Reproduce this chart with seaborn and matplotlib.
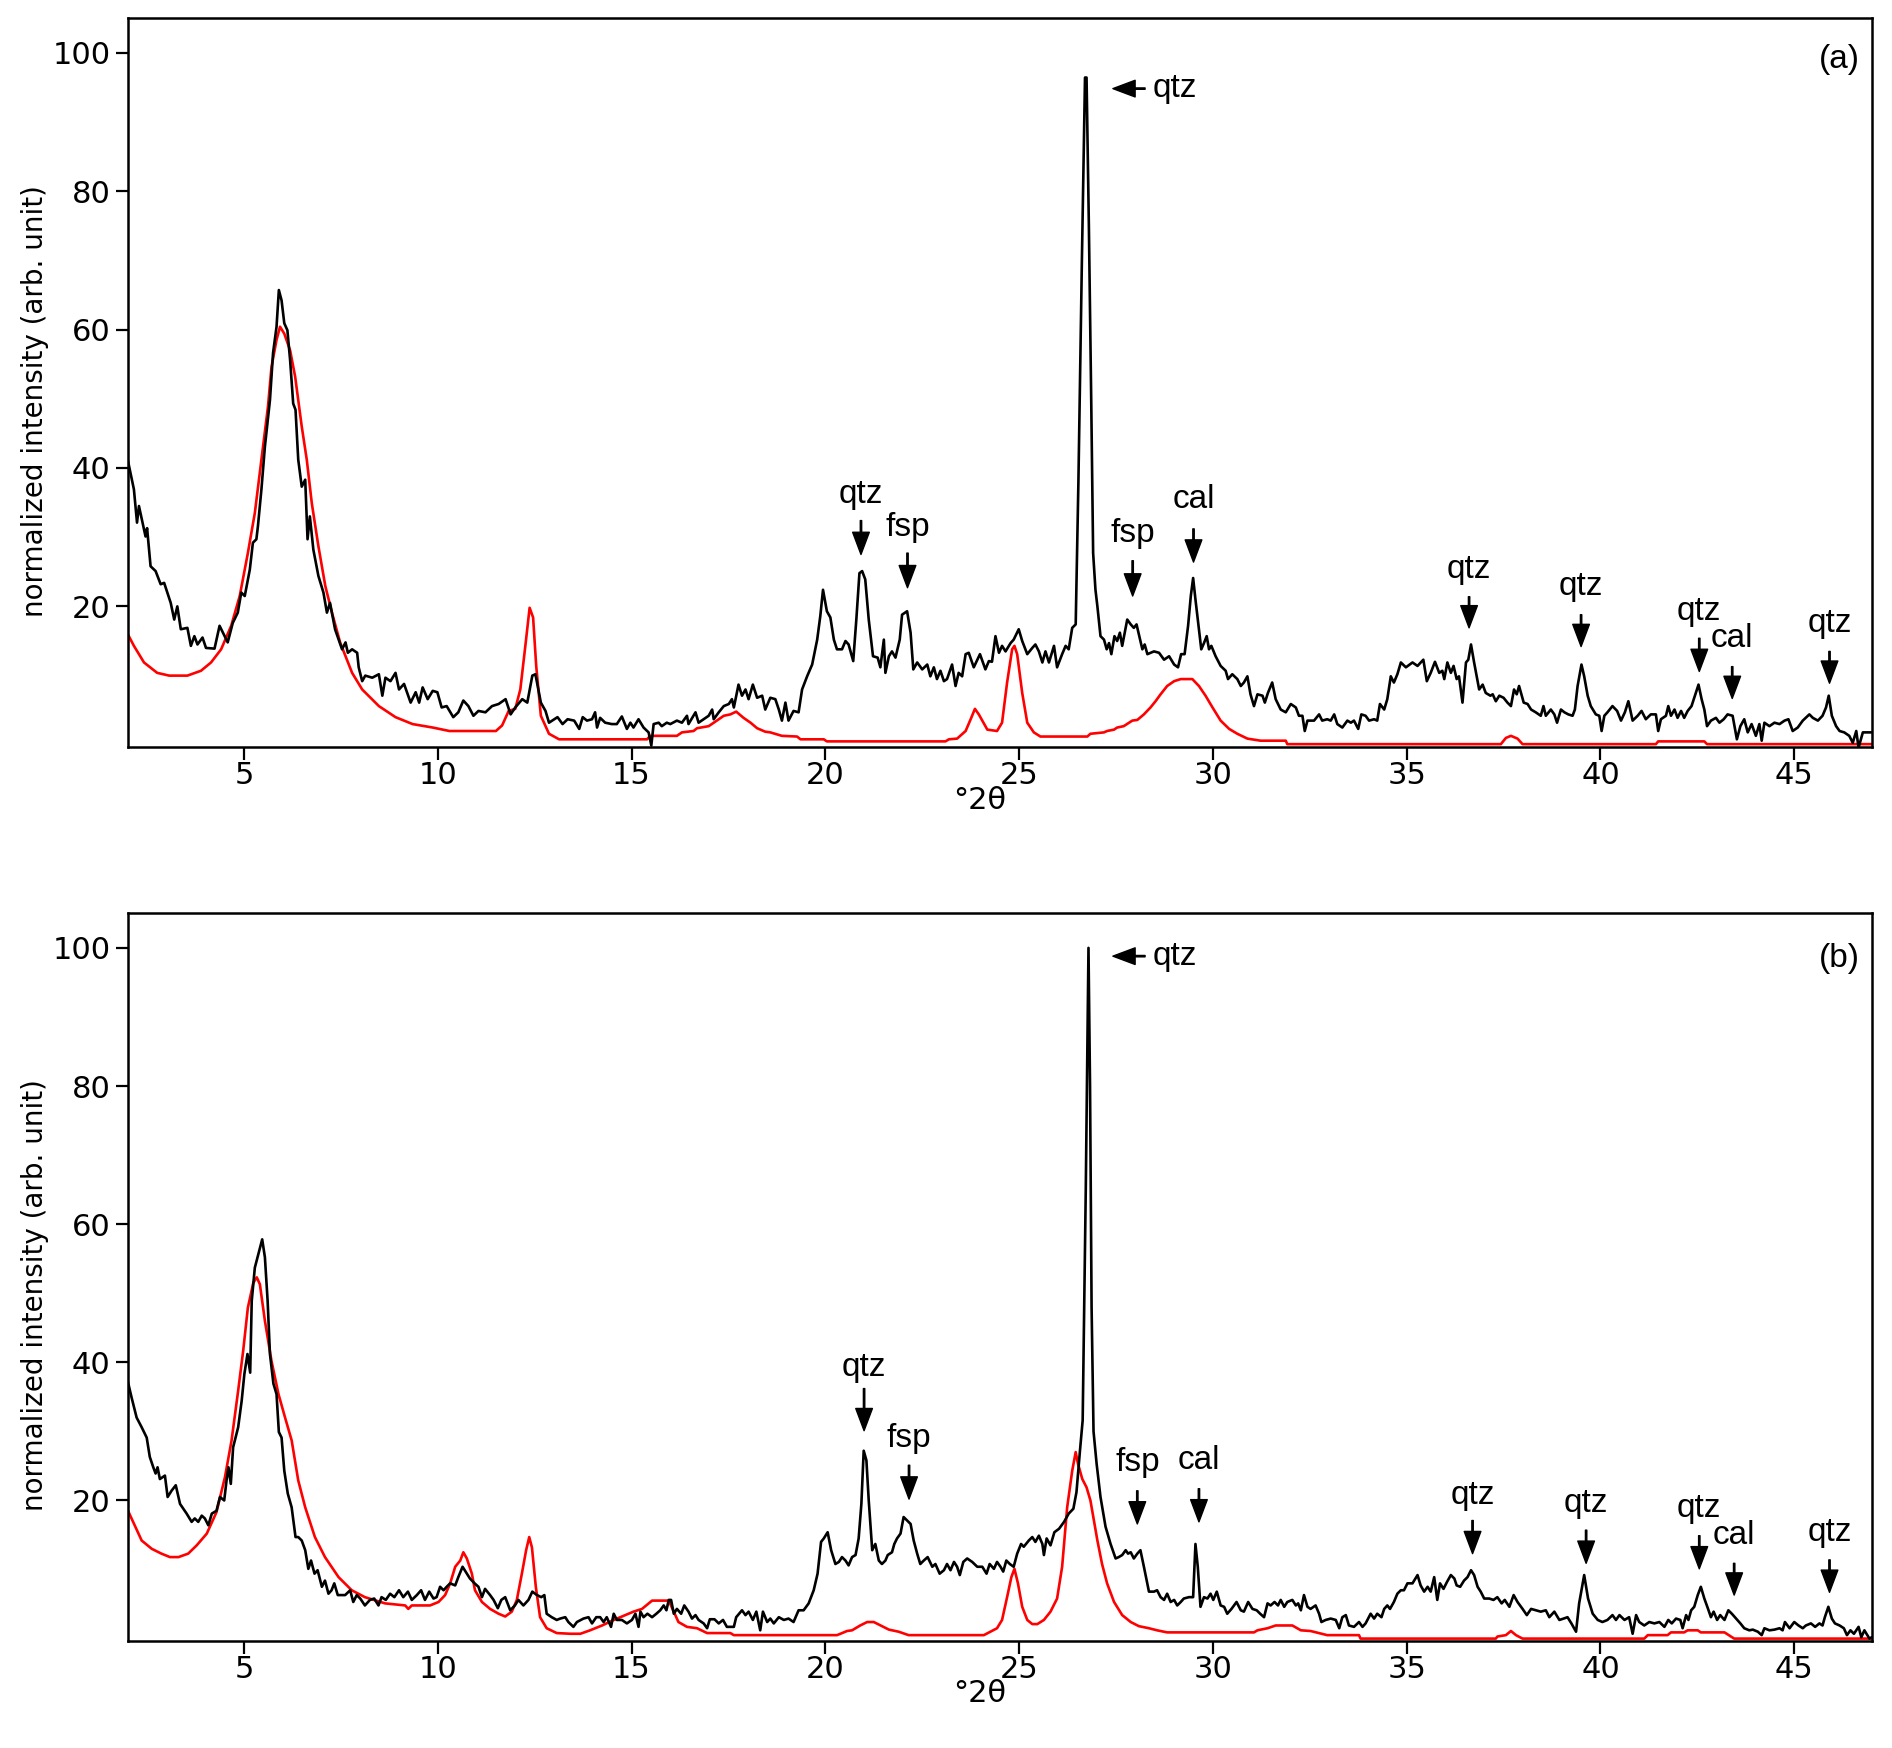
import seaborn as sns
import matplotlib.pyplot as plt
import numpy as np

# ---- panel (a) ----
black_a_x = [2.0, 2.16, 2.24, 2.29, 2.46, 2.5, 2.59, 2.72, 2.85, 2.94, 3.11, 3.2, 3.28, 3.37, 3.54, 3.63, 3.72, 3.8, 3.93, 4.02,
             4.24, 4.37, 4.5, 4.58, 4.71, 4.84, 4.93, 5.02, 5.15, 5.23, 5.32, 5.36, 5.45, 5.54, 5.67, 5.75, 5.84, 5.9, 5.97, 6.04,
             6.12, 6.19, 6.27, 6.33, 6.4, 6.49, 6.58, 6.64, 6.7, 6.79, 6.92, 7.05, 7.14, 7.22, 7.35, 7.53, 7.62, 7.68, 7.79, 7.92,
             7.96, 8.05, 8.13, 8.31, 8.48, 8.57, 8.65, 8.78, 8.91, 9.0, 9.13, 9.3, 9.43, 9.52, 9.61, 9.74, 9.87, 9.99, 10.1, 10.23,
             10.4, 10.53, 10.66, 10.79, 10.92, 11.05, 11.23, 11.4, 11.57, 11.75, 11.88, 12.0, 12.18, 12.31, 12.44, 12.52, 12.66, 12.78, 12.87, 13.09,
             13.22, 13.35, 13.52, 13.65, 13.74, 13.85, 13.98, 14.06, 14.11, 14.19, 14.32, 14.49, 14.62, 14.75, 14.88, 14.97, 15.05, 15.18, 15.31, 15.44,
             15.51, 15.57, 15.7, 15.78, 15.91, 16.0, 16.17, 16.3, 16.43, 16.47, 16.65, 16.73, 16.86, 16.99, 17.08, 17.12, 17.25, 17.38, 17.51, 17.59,
             17.64, 17.76, 17.85, 17.94, 18.02, 18.13, 18.24, 18.37, 18.45, 18.58, 18.71, 18.8, 18.88, 18.97, 19.05, 19.18, 19.31, 19.4, 19.53, 19.66,
             19.79, 19.87, 19.94, 20.04, 20.13, 20.22, 20.3, 20.43, 20.52, 20.6, 20.72, 20.8, 20.88, 20.95, 21.03, 21.12, 21.23, 21.35, 21.42, 21.51,
             21.55, 21.64, 21.72, 21.81, 21.92, 21.98, 22.11, 22.2, 22.27, 22.37, 22.5, 22.63, 22.71, 22.8, 22.88, 22.97, 23.06, 23.14, 23.27, 23.36,
             23.44, 23.53, 23.62, 23.7, 23.83, 23.99, 24.13, 24.22, 24.3, 24.39, 24.48, 24.56, 24.65, 24.78, 24.86, 24.99, 25.08, 25.21, 25.34, 25.42,
             25.51, 25.6, 25.68, 25.77, 25.9, 25.98, 26.11, 26.2, 26.28, 26.37, 26.46, 26.53, 26.62, 26.7, 26.74, 26.8, 26.86, 26.91, 26.97, 27.02,
             27.1, 27.19, 27.26, 27.32, 27.38, 27.46, 27.53, 27.6, 27.66, 27.79, 27.88, 27.96, 28.03, 28.12, 28.18, 28.24, 28.31, 28.48, 28.61, 28.74,
             28.87, 29.0, 29.1, 29.18, 29.27, 29.36, 29.43, 29.49, 29.55, 29.64, 29.7, 29.77, 29.84, 29.9, 29.96, 30.07, 30.2, 30.33, 30.39, 30.5,
             30.63, 30.72, 30.8, 30.89, 30.97, 31.06, 31.15, 31.28, 31.34, 31.42, 31.53, 31.62, 31.75, 31.88, 32.01, 32.14, 32.22, 32.31, 32.37, 32.44,
             32.61, 32.74, 32.82, 32.95, 33.04, 33.13, 33.21, 33.34, 33.47, 33.56, 33.64, 33.75, 33.83, 33.94, 34.03, 34.16, 34.24, 34.31, 34.42, 34.5,
             34.59, 34.67, 34.76, 34.85, 34.98, 35.15, 35.28, 35.43, 35.52, 35.62, 35.73, 35.84, 35.92, 35.97, 36.05, 36.14, 36.21, 36.29, 36.35, 36.44,
             36.53, 36.59, 36.66, 36.74, 36.87, 36.96, 37.04, 37.16, 37.22, 37.3, 37.39, 37.5, 37.6, 37.69, 37.77, 37.84, 37.9, 38.02, 38.12, 38.21,
             38.33, 38.46, 38.53, 38.59, 38.72, 38.81, 38.88, 38.98, 39.07, 39.17, 39.28, 39.34, 39.41, 39.51, 39.58, 39.67, 39.75, 39.88, 39.97, 40.03,
             40.1, 40.18, 40.31, 40.43, 40.53, 40.63, 40.72, 40.83, 40.96, 41.06, 41.17, 41.3, 41.43, 41.49, 41.56, 41.69, 41.75, 41.82, 41.91, 41.99,
             42.08, 42.16, 42.25, 42.35, 42.42, 42.53, 42.61, 42.68, 42.75, 42.85, 42.98, 43.07, 43.18, 43.28, 43.41, 43.52, 43.61, 43.71, 43.8, 43.9,
             44.01, 44.1, 44.16, 44.23, 44.36, 44.49, 44.62, 44.75, 44.85, 44.96, 45.09, 45.22, 45.39, 45.48, 45.61, 45.73, 45.82, 45.89, 45.97, 46.08,
             46.17, 46.29, 46.42, 46.51, 46.6, 46.66, 46.77, 47.0]
black_a_y = [41.2, 36.9, 32.1, 34.5, 30.1, 31.3, 25.8, 25.1, 23.2, 23.4, 20.5, 18.1, 20.0, 16.7, 16.9, 14.3, 15.7, 14.5, 15.5, 14.0,
             13.9, 17.2, 15.7, 14.8, 17.6, 19.1, 22.0, 21.5, 25.3, 29.2, 29.7, 31.6, 36.9, 43.1, 49.8, 56.6, 60.4, 65.7, 64.2, 60.9,
             59.9, 55.6, 49.3, 48.4, 41.2, 37.3, 38.3, 29.7, 33.0, 28.2, 24.4, 22.0, 19.1, 20.5, 16.7, 13.8, 14.8, 13.3, 13.8, 13.3,
             11.2, 9.2, 10.0, 9.7, 10.2, 7.1, 9.7, 9.2, 10.4, 8.0, 8.8, 6.1, 7.6, 6.1, 8.3, 6.6, 7.8, 7.6, 5.4, 5.6,
             4.0, 4.7, 6.4, 5.6, 4.2, 4.9, 4.7, 5.6, 5.9, 6.6, 4.4, 5.4, 6.6, 6.1, 10.0, 10.2, 6.1, 4.9, 3.2, 4.0,
             3.0, 3.7, 3.5, 2.3, 4.0, 3.5, 3.7, 4.7, 2.5, 3.9, 3.2, 3.0, 3.0, 4.1, 2.3, 3.2, 2.5, 3.7, 2.5, 1.8,
             -0.1, 3.0, 3.2, 2.7, 3.2, 3.0, 3.5, 3.2, 4.2, 3.0, 4.7, 3.2, 3.7, 4.2, 5.1, 3.7, 4.7, 5.6, 5.9, 6.6,
             5.4, 8.7, 7.1, 8.0, 6.6, 8.7, 6.8, 7.1, 5.1, 6.8, 6.6, 5.1, 3.5, 6.1, 3.5, 4.9, 4.7, 8.0, 9.9, 11.6,
             15.2, 18.6, 22.4, 19.3, 18.4, 15.2, 13.8, 13.8, 15.0, 14.5, 12.1, 18.1, 24.8, 25.1, 23.9, 18.1, 12.8, 12.6, 11.2, 15.2,
             10.4, 12.8, 13.5, 12.6, 15.2, 18.8, 19.3, 16.2, 10.9, 11.9, 10.9, 11.6, 9.9, 11.2, 9.5, 10.7, 9.2, 9.5, 11.6, 8.5,
             10.4, 9.9, 13.1, 13.3, 11.2, 13.1, 10.9, 12.1, 12.0, 15.7, 13.3, 14.3, 13.5, 14.7, 15.2, 16.7, 15.0, 13.1, 14.0, 14.5,
             13.5, 11.9, 13.5, 11.9, 14.3, 11.2, 13.1, 14.3, 13.8, 16.9, 17.4, 38.0, 70.0, 96.4, 96.4, 75.0, 50.0, 27.7, 22.4, 20.0,
             15.7, 15.2, 13.8, 14.7, 13.1, 15.7, 15.0, 16.2, 14.3, 18.1, 17.4, 16.9, 17.4, 15.2, 13.8, 14.5, 13.1, 13.5, 13.3, 12.3,
             12.8, 11.6, 11.2, 13.1, 13.1, 17.2, 21.5, 24.1, 21.0, 16.7, 13.8, 14.7, 15.7, 13.8, 14.3, 12.8, 11.4, 10.7, 9.5, 10.2,
             9.5, 8.5, 9.0, 9.9, 7.3, 5.6, 7.3, 7.1, 6.1, 7.5, 9.0, 6.6, 5.1, 4.7, 5.9, 5.4, 4.2, 4.2, 2.0, 3.5,
             3.5, 4.4, 3.5, 3.7, 3.5, 4.4, 3.0, 2.5, 3.5, 3.2, 3.5, 2.3, 4.4, 4.2, 3.5, 3.7, 3.5, 5.9, 5.1, 6.6,
             9.9, 9.0, 10.2, 11.9, 11.2, 11.9, 11.4, 12.3, 9.2, 10.4, 12.0, 10.4, 10.7, 9.5, 11.9, 10.4, 11.4, 9.5, 9.9, 6.1,
             11.9, 12.3, 14.5, 11.9, 8.0, 8.7, 7.5, 7.1, 7.3, 6.3, 7.1, 6.8, 6.1, 5.6, 8.0, 7.3, 8.5, 6.1, 5.9, 5.1,
             4.7, 4.2, 5.6, 4.2, 5.1, 4.4, 3.2, 5.1, 4.7, 4.4, 4.2, 5.1, 8.5, 11.6, 9.9, 7.1, 5.6, 4.4, 4.2, 2.0,
             4.2, 4.7, 5.6, 4.9, 3.5, 4.7, 6.3, 3.5, 4.2, 4.9, 3.7, 4.4, 4.4, 2.0, 3.7, 4.2, 5.6, 4.2, 5.1, 3.9,
             4.9, 3.9, 4.9, 5.6, 6.8, 8.7, 6.6, 5.1, 2.7, 3.5, 3.9, 3.2, 3.7, 4.4, 4.2, 0.8, 2.7, 3.7, 1.8, 3.0,
             1.3, 3.0, 0.6, 3.2, 2.7, 3.2, 3.0, 3.5, 3.7, 2.0, 2.5, 3.5, 4.4, 3.9, 3.5, 4.2, 5.4, 7.1, 4.2, 2.7,
             2.0, 1.8, 1.3, 0.3, 2.0, -0.4, 1.8, 1.8]

red_a_x = [2.0, 2.16, 2.42, 2.76, 3.07, 3.54, 3.89, 4.15, 4.41, 4.67, 4.89, 5.1, 5.28, 5.45, 5.62, 5.71, 5.84, 5.93, 6.04, 6.19,
           6.32, 6.49, 6.62, 6.75, 6.92, 7.1, 7.27, 7.48, 7.79, 8.05, 8.48, 8.91, 9.35, 9.87, 10.3, 11.5, 11.66, 11.83, 12.0, 12.13,
           12.27, 12.37, 12.46, 12.54, 12.66, 12.87, 13.13, 15.4, 15.48, 16.17, 16.3, 16.6, 16.69, 16.99, 17.2, 17.38, 17.55, 17.7, 17.89, 18.07,
           18.24, 18.45, 18.58, 18.88, 19.27, 19.36, 19.96, 20.04, 23.1, 23.19, 23.4, 23.62, 23.75, 23.86, 23.96, 24.18, 24.43, 24.56, 24.69, 24.82,
           24.88, 24.95, 25.08, 25.21, 25.38, 25.55, 26.76, 26.84, 27.19, 27.27, 27.45, 27.53, 27.7, 27.92, 28.05, 28.22, 28.39, 28.52, 28.65, 28.82,
           29.0, 29.17, 29.47, 29.64, 29.81, 29.99, 30.2, 30.42, 30.63, 30.89, 31.23, 31.88, 31.92, 37.43, 37.56, 37.69, 37.86, 37.99, 41.43, 41.49,
           42.68, 42.75, 47.0]
red_a_y = [16.0, 14.3, 11.9, 10.4, 10.0, 10.0, 10.7, 11.9, 13.8, 17.2, 21.5, 27.7, 33.5, 41.2, 48.9, 54.6, 58.5, 60.4, 59.4, 57.0,
           53.2, 46.0, 41.2, 34.9, 28.7, 22.9, 19.1, 14.8, 10.4, 8.0, 5.6, 4.0, 3.0, 2.5, 2.0, 2.0, 2.8, 4.9, 5.2, 8.0,
           14.8, 19.8, 18.4, 11.4, 4.2, 1.6, 0.8, 0.8, 1.3, 1.3, 1.8, 2.0, 2.4, 2.7, 3.5, 4.2, 4.4, 4.8, 3.9, 3.2,
           2.4, 1.9, 1.8, 1.3, 1.2, 0.8, 0.8, 0.5, 0.5, 0.8, 0.9, 2.0, 3.7, 5.2, 4.4, 2.2, 2.0, 3.2, 9.0, 13.8,
           14.3, 13.1, 7.5, 3.2, 1.8, 1.2, 1.2, 1.6, 1.8, 2.0, 2.2, 2.5, 2.7, 3.5, 3.6, 4.4, 5.4, 6.3, 7.3, 8.5,
           9.2, 9.5, 9.5, 8.5, 7.1, 5.4, 3.5, 2.3, 1.6, 0.9, 0.6, 0.6, 0.1, 0.1, 1.0, 1.3, 0.9, 0.1, 0.1, 0.5,
           0.5, 0.1, 0.1]

# ---- panel (b) ----
black_b_x = [2.0, 2.1, 2.23, 2.36, 2.49, 2.57, 2.66, 2.72, 2.77, 2.83, 2.96, 3.03, 3.13, 3.24, 3.35, 3.52, 3.65, 3.73, 3.82, 3.91,
             3.99, 4.08, 4.17, 4.29, 4.38, 4.49, 4.55, 4.6, 4.66, 4.72, 4.85, 4.94, 5.01, 5.09, 5.16, 5.2, 5.28, 5.39, 5.47, 5.54,
             5.61, 5.67, 5.76, 5.84, 5.9, 5.97, 6.04, 6.13, 6.23, 6.33, 6.4, 6.49, 6.58, 6.66, 6.73, 6.82, 6.9, 7.01, 7.09, 7.18,
             7.26, 7.33, 7.42, 7.61, 7.74, 7.82, 7.91, 8.0, 8.12, 8.25, 8.36, 8.47, 8.55, 8.66, 8.77, 8.88, 9.0, 9.11, 9.23, 9.33,
             9.46, 9.57, 9.67, 9.78, 9.89, 9.97, 10.06, 10.15, 10.23, 10.32, 10.45, 10.53, 10.64, 10.75, 10.83, 10.95, 11.05, 11.14, 11.22, 11.35,
             11.44, 11.55, 11.64, 11.74, 11.87, 11.99, 12.08, 12.21, 12.34, 12.44, 12.56, 12.67, 12.75, 12.81, 12.94, 13.07, 13.16, 13.29, 13.37, 13.5,
             13.59, 13.76, 13.89, 13.98, 14.09, 14.19, 14.28, 14.36, 14.47, 14.54, 14.62, 14.75, 14.88, 15.01, 15.1, 15.18, 15.23, 15.31, 15.41, 15.53,
             15.64, 15.74, 15.83, 15.9, 15.96, 16.02, 16.09, 16.17, 16.28, 16.36, 16.47, 16.56, 16.65, 16.73, 16.86, 16.95, 17.02, 17.14, 17.25, 17.36,
             17.46, 17.64, 17.7, 17.85, 17.94, 18.02, 18.13, 18.22, 18.32, 18.39, 18.5, 18.58, 18.67, 18.8, 18.93, 19.05, 19.18, 19.31, 19.44, 19.57,
             19.7, 19.8, 19.89, 19.96, 20.06, 20.15, 20.26, 20.35, 20.43, 20.52, 20.6, 20.69, 20.78, 20.86, 20.93, 20.99, 21.06, 21.12, 21.21, 21.29,
             21.38, 21.46, 21.55, 21.61, 21.72, 21.78, 21.85, 21.94, 22.02, 22.11, 22.2, 22.28, 22.37, 22.45, 22.54, 22.64, 22.76, 22.84, 22.95, 23.06,
             23.14, 23.23, 23.32, 23.4, 23.47, 23.56, 23.66, 23.79, 23.92, 24.05, 24.16, 24.24, 24.35, 24.43, 24.52, 24.59, 24.67, 24.76, 24.86, 24.95,
             25.05, 25.12, 25.25, 25.34, 25.42, 25.51, 25.6, 25.64, 25.71, 25.81, 25.91, 26.03, 26.16, 26.28, 26.4, 26.48, 26.57, 26.64, 26.72, 26.79,
             26.83, 26.87, 26.92, 27.0, 27.1, 27.23, 27.36, 27.49, 27.57, 27.66, 27.75, 27.81, 27.88, 27.96, 28.05, 28.13, 28.22, 28.35, 28.48, 28.56,
             28.65, 28.74, 28.82, 28.91, 29.0, 29.08, 29.17, 29.25, 29.38, 29.49, 29.55, 29.61, 29.68, 29.77, 29.86, 29.94, 30.01, 30.1, 30.2, 30.29,
             30.37, 30.48, 30.61, 30.72, 30.8, 30.91, 31.02, 31.13, 31.22, 31.32, 31.41, 31.49, 31.59, 31.68, 31.75, 31.84, 31.92, 32.05, 32.14, 32.2,
             32.27, 32.35, 32.44, 32.52, 32.65, 32.74, 32.8, 32.91, 33.04, 33.17, 33.26, 33.34, 33.43, 33.51, 33.64, 33.77, 33.86, 33.94, 34.07, 34.16,
             34.24, 34.35, 34.42, 34.5, 34.57, 34.67, 34.76, 34.85, 34.93, 35.02, 35.15, 35.28, 35.36, 35.45, 35.54, 35.62, 35.71, 35.79, 35.86, 35.95,
             36.04, 36.14, 36.23, 36.29, 36.38, 36.48, 36.57, 36.66, 36.74, 36.83, 36.91, 37.0, 37.13, 37.24, 37.34, 37.45, 37.53, 37.65, 37.76, 37.86,
             37.99, 38.1, 38.21, 38.33, 38.46, 38.59, 38.68, 38.81, 38.94, 39.05, 39.15, 39.25, 39.37, 39.45, 39.58, 39.68, 39.8, 39.93, 40.05, 40.18,
             40.31, 40.4, 40.49, 40.62, 40.74, 40.83, 40.92, 41.0, 41.13, 41.26, 41.39, 41.52, 41.65, 41.75, 41.84, 41.95, 42.06, 42.12, 42.21, 42.27,
             42.34, 42.42, 42.51, 42.59, 42.68, 42.77, 42.85, 42.92, 43.01, 43.09, 43.2, 43.3, 43.39, 43.5, 43.61, 43.71, 43.84, 43.93, 44.06, 44.16,
             44.23, 44.36, 44.49, 44.62, 44.7, 44.76, 44.88, 45.0, 45.11, 45.22, 45.3, 45.43, 45.54, 45.65, 45.73, 45.79, 45.88, 45.97, 46.05, 46.17,
             46.28, 46.36, 46.45, 46.54, 46.66, 46.73, 46.81, 46.94, 47.0]
black_b_y = [37.3, 34.9, 32.0, 30.6, 29.1, 26.3, 24.8, 23.9, 24.8, 23.1, 23.6, 20.5, 21.4, 22.2, 19.5, 18.1, 16.9, 17.4, 16.9, 17.8,
             17.4, 16.4, 18.1, 18.5, 20.5, 20.0, 22.9, 24.8, 22.4, 27.7, 30.6, 34.4, 38.3, 41.2, 38.5, 48.9, 53.7, 56.1, 57.8, 55.2,
             48.9, 41.2, 36.9, 35.4, 29.9, 29.1, 24.3, 21.0, 19.0, 14.7, 14.7, 14.2, 12.8, 10.1, 11.3, 9.4, 9.9, 7.5, 8.4, 6.5,
             7.0, 8.0, 6.3, 6.3, 7.0, 5.3, 6.3, 5.8, 4.8, 5.6, 5.8, 4.8, 6.0, 5.6, 6.5, 6.0, 7.0, 6.0, 6.8, 5.6,
             6.3, 7.0, 5.6, 6.8, 5.8, 6.0, 7.5, 7.0, 7.5, 8.0, 7.7, 8.9, 10.4, 9.4, 8.7, 8.0, 7.5, 6.0, 7.2, 6.3,
             5.6, 4.4, 5.6, 6.0, 4.1, 4.8, 5.6, 4.8, 5.6, 6.8, 6.3, 6.0, 6.3, 3.6, 3.1, 2.7, 2.9, 3.1, 2.4, 1.7,
             2.4, 2.9, 3.1, 2.2, 3.1, 3.1, 2.4, 3.1, 1.7, 3.6, 2.7, 2.7, 2.2, 2.7, 3.6, 1.7, 3.9, 3.1, 3.6, 3.1,
             3.6, 4.1, 4.8, 4.1, 5.6, 5.6, 3.6, 4.3, 3.6, 4.8, 3.9, 2.9, 3.4, 2.7, 2.2, 1.5, 2.8, 2.8, 2.2, 2.7,
             1.7, 1.7, 3.1, 4.1, 3.4, 3.9, 2.7, 3.9, 1.2, 3.9, 2.4, 2.9, 2.2, 3.1, 2.7, 2.9, 2.4, 4.1, 4.1, 5.1,
             7.0, 9.4, 14.0, 14.5, 15.4, 12.8, 10.8, 11.1, 11.8, 11.3, 10.6, 11.8, 12.1, 14.5, 19.5, 27.2, 25.8, 20.0, 12.8, 13.7,
             11.3, 10.8, 11.3, 12.1, 12.5, 13.7, 14.5, 15.2, 17.6, 17.1, 16.6, 14.2, 12.3, 10.8, 11.3, 11.8, 10.4, 10.8, 9.4, 9.9,
             10.8, 9.9, 11.1, 10.4, 9.2, 11.1, 11.6, 11.1, 10.4, 10.4, 9.4, 10.8, 10.1, 11.1, 10.4, 9.7, 11.3, 10.8, 10.4, 12.3,
             13.7, 13.3, 14.2, 14.7, 14.0, 14.9, 13.7, 12.1, 14.5, 13.5, 15.4, 15.9, 16.9, 18.1, 18.8, 21.2, 27.2, 31.6, 65.0, 100.0,
             80.0, 48.0, 30.0, 25.3, 20.5, 16.2, 13.7, 11.6, 11.8, 12.1, 12.8, 12.3, 12.5, 11.6, 12.3, 12.8, 10.4, 6.8, 6.8, 7.0,
             6.0, 5.6, 6.5, 5.3, 5.6, 4.8, 5.3, 5.8, 6.0, 6.0, 13.7, 10.4, 4.6, 6.0, 5.8, 6.5, 5.6, 6.8, 4.8, 4.6,
             3.6, 4.3, 5.3, 4.1, 3.9, 5.3, 4.3, 4.1, 3.6, 3.1, 5.1, 4.8, 5.3, 4.8, 5.6, 4.6, 5.3, 5.6, 4.8, 5.1,
             4.1, 6.3, 4.6, 4.3, 4.8, 3.6, 2.4, 2.7, 2.9, 2.7, 1.5, 3.1, 3.4, 1.9, 1.7, 2.4, 1.7, 2.2, 3.6, 2.9,
             3.6, 3.1, 4.3, 4.8, 4.3, 5.3, 6.5, 7.0, 7.0, 8.0, 8.0, 9.2, 7.7, 6.8, 7.5, 6.8, 8.9, 5.6, 8.0, 7.2,
             8.2, 9.2, 8.7, 7.7, 7.5, 8.4, 8.9, 9.9, 9.2, 7.5, 6.8, 5.8, 5.8, 5.6, 6.0, 5.1, 5.6, 4.6, 6.3, 5.3,
             4.3, 3.4, 4.3, 4.1, 3.9, 4.1, 3.1, 3.9, 2.7, 2.9, 3.1, 2.2, 1.0, 5.1, 9.2, 5.8, 3.6, 2.7, 2.4, 2.7,
             3.4, 2.7, 3.4, 2.7, 3.1, 0.7, 3.4, 2.4, 1.9, 2.4, 2.2, 2.4, 1.7, 2.7, 2.2, 2.9, 2.7, 1.5, 3.4, 2.7,
             4.1, 4.6, 6.3, 7.5, 5.8, 4.4, 3.1, 3.9, 2.7, 3.4, 2.7, 4.1, 3.6, 2.9, 2.2, 1.5, 1.2, 1.3, 1.0, 0.5,
             1.5, 1.2, 1.3, 1.5, 1.2, 2.4, 1.5, 2.4, 1.9, 1.5, 1.9, 2.2, 1.7, 2.2, 1.9, 3.1, 4.6, 2.9, 2.2, 1.9,
             1.5, 0.5, 1.2, 0.7, 1.7, 0.2, 1.2, 0.0, 0.2]

red_b_x = [2.0, 2.14, 2.36, 2.62, 2.87, 3.09, 3.31, 3.56, 3.78, 4.04, 4.29, 4.51, 4.68, 4.85, 4.98, 5.1, 5.24, 5.33, 5.41, 5.54,
           5.71, 5.89, 6.06, 6.23, 6.4, 6.58, 6.83, 7.09, 7.44, 7.78, 8.12, 8.64, 9.16, 9.24, 9.33, 9.8, 10.02, 10.19, 10.32, 10.45,
           10.58, 10.66, 10.75, 10.88, 10.96, 11.14, 11.35, 11.57, 11.74, 11.91, 12.04, 12.17, 12.28, 12.36, 12.43, 12.53, 12.64, 12.81, 13.07, 13.42,
           13.68, 13.93, 14.24, 14.54, 14.84, 15.05, 15.27, 15.53, 15.96, 16.09, 16.21, 16.43, 16.69, 16.95, 17.55, 17.64, 20.3, 20.39, 20.56, 20.69,
           20.9, 21.08, 21.25, 21.46, 21.64, 21.89, 22.15, 24.09, 24.26, 24.43, 24.56, 24.69, 24.8, 24.88, 24.97, 25.08, 25.21, 25.34, 25.47, 25.64,
           25.81, 25.98, 26.11, 26.24, 26.37, 26.46, 26.52, 26.63, 26.74, 26.84, 26.93, 27.02, 27.14, 27.27, 27.45, 27.66, 27.88, 28.09, 28.35, 28.56,
           28.82, 31.06, 31.15, 31.41, 31.62, 32.05, 32.27, 32.52, 32.95, 33.77, 33.81, 37.3, 37.34, 37.56, 37.69, 37.82, 37.99, 41.13, 41.22, 41.73,
           41.82, 42.16, 42.25, 42.51, 42.59, 43.2, 43.37, 43.45, 47.0]
red_b_y = [18.6, 16.9, 14.2, 13.0, 12.3, 11.8, 11.8, 12.3, 13.5, 15.2, 18.3, 23.4, 28.7, 35.9, 41.7, 47.9, 51.5, 52.3, 51.3, 46.0,
           40.2, 35.4, 32.0, 28.7, 22.9, 19.0, 14.7, 11.8, 8.9, 7.0, 6.0, 5.1, 4.8, 4.3, 4.8, 4.8, 5.3, 6.3, 8.0, 10.4,
           11.3, 12.5, 11.6, 9.4, 7.0, 5.3, 4.3, 3.6, 3.2, 3.9, 5.6, 9.4, 12.8, 14.7, 13.2, 7.5, 3.1, 1.5, 0.8, 0.7,
           0.7, 1.2, 1.9, 2.7, 3.4, 3.9, 4.3, 5.5, 5.5, 3.9, 2.4, 1.7, 1.5, 0.8, 0.8, 0.5, 0.5, 0.7, 1.1, 1.2,
           1.9, 2.4, 2.4, 1.8, 1.3, 1.0, 0.5, 0.5, 1.0, 1.5, 2.7, 6.0, 8.9, 10.1, 8.0, 4.6, 2.7, 2.1, 2.1, 2.7,
           3.9, 5.8, 10.4, 19.0, 24.3, 27.0, 25.3, 23.1, 21.9, 20.0, 17.1, 14.2, 10.8, 8.0, 5.3, 3.4, 2.4, 1.8, 1.5, 1.2,
           0.9, 0.9, 1.2, 1.5, 1.9, 1.9, 1.2, 1.1, 0.5, 0.5, 0.0, 0.0, 0.3, 0.5, 1.1, 0.5, 0.0, 0.0, 0.5, 0.5,
           0.9, 0.9, 1.2, 1.2, 0.9, 0.9, 0.3, 0.0, 0.0]

x_ticks = [5, 10, 15, 20, 25, 30, 35, 40, 45]
y_ticks = [20, 40, 60, 80, 100]

# label, x, text y, arrow tail y, arrow tip y
marks_a = [("qtz", 20.92, 36.1, 32.4, 27.5), ("fsp", 22.12, 31.4, 27.7, 22.7), ("fsp", 27.93, 30.6, 26.6, 21.5),
           ("cal", 29.5, 35.4, 31.2, 26.4), ("qtz", 36.61, 25.4, 21.4, 16.9), ("qtz", 39.5, 22.9, 18.8, 14.2),
           ("qtz", 42.55, 19.3, 15.4, 10.6), ("cal", 43.4, 15.4, 11.3, 6.7), ("qtz", 45.91, 17.6, 13.5, 8.9)]
marks_b = [("qtz", 21.0, 39.2, 36.2, 30.1), ("fsp", 22.16, 28.9, 25.1, 20.2), ("fsp", 28.05, 25.5, 21.4, 16.6),
           ("cal", 29.64, 25.8, 21.7, 16.9), ("qtz", 36.7, 20.7, 17.1, 12.3), ("qtz", 39.63, 19.5, 15.7, 10.9),
           ("qtz", 42.55, 18.8, 14.9, 10.1), ("cal", 43.45, 14.9, 10.9, 6.3), ("qtz", 45.91, 15.4, 11.4, 6.7)]

sns.set_theme(style="ticks")
plt.rcParams['font.family'] = ['DejaVu Sans']
plt.rcParams['text.color'] = 'black'
plt.rcParams['axes.labelcolor'] = 'black'
plt.rcParams['xtick.color'] = 'black'
plt.rcParams['ytick.color'] = 'black'

fig = plt.figure(figsize=(18.92, 17.48), dpi=100)
ax_a = fig.add_axes([0.0675, 0.5727, 0.9218, 0.417])
ax_b = fig.add_axes([0.0675, 0.0614, 0.9218, 0.4161])

panels = [(ax_a, black_a_x, black_a_y, red_a_x, red_a_y, marks_a, "(a)", 94.8, 99.0),
          (ax_b, black_b_x, black_b_y, red_b_x, red_b_y, marks_b, "(b)", 98.8, 98.5)]

arrow_kw = dict(facecolor='black', edgecolor='black', width=1.0, headwidth=12, headlength=16, shrink=0)

for ax, bx, by, rx, ry, marks, tag, top_y, tag_y in panels:
    sns.lineplot(x=rx, y=ry, ax=ax, color='red', lw=1.9, estimator=None, sort=False)
    sns.lineplot(x=bx, y=by, ax=ax, color='black', lw=1.9, estimator=None, sort=False)
    ax.set_xlim(2, 47)
    ax.set_ylim(-0.3, 105)
    ax.set_xticks(x_ticks)
    ax.set_yticks(y_ticks)
    ax.tick_params(axis='both', labelsize=22, length=9, width=1.6, direction='out', color='black')
    ax.tick_params(axis='x', pad=1)
    for sp in ax.spines.values():
        sp.set_linewidth(1.8)
        sp.set_color('black')
    ax.set_xlabel('°2θ', fontsize=22)
    ax.xaxis.set_label_coords(0.4887, -0.053)
    ax.set_ylabel('normalized intensity (arb. unit)', fontsize=20)
    ax.yaxis.set_label_coords(-0.045, 0.475)

    for label, x, ty, tail, tip in marks:
        ax.annotate('', xy=(x, tip), xytext=(x, tail), arrowprops=arrow_kw)
        ax.text(x, ty, label, ha='center', va='center', fontsize=24, family='Liberation Sans')

    # big quartz peak, arrow pointing left
    ax.annotate('', xy=(27.42, top_y), xytext=(28.25, top_y), arrowprops=arrow_kw)
    ax.text(28.45, top_y, 'qtz', ha='left', va='center', fontsize=24, family='Liberation Sans')
    ax.text(46.7, tag_y, tag, ha='right', va='center', fontsize=24, family='Liberation Sans')

fig.savefig('out.png', dpi=100)
